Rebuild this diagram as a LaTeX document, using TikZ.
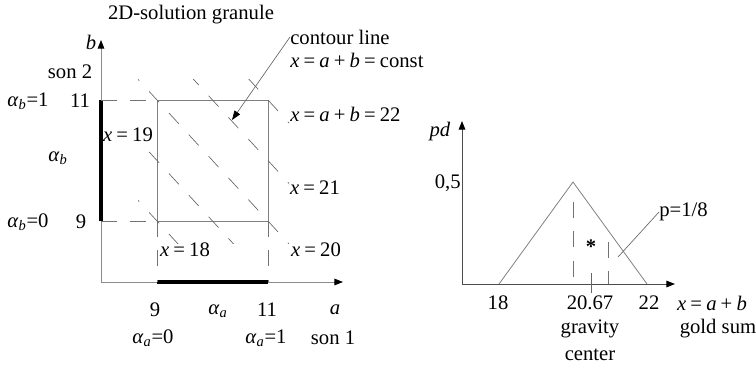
\documentclass[tikz,border=0pt]{standalone}
\usepackage{fontspec}
\setmainfont{Liberation Serif}
\usetikzlibrary{arrows.meta}
\newcommand{\asub}[1]{\textit{α}\textsubscript{\textit{#1}}}
\newcommand{\eqs}{\kern0.2em=\kern0.2em}
\newcommand{\pls}{\kern0.2em+\kern0.2em}

\begin{document}
\begin{tikzpicture}[x=0.75pt, y=-0.75pt,
  every node/.style={inner sep=0pt, font=\fontsize{15.5}{18}\selectfont},
  axisline/.style={draw=black!45, line width=0.7pt, -{Triangle[length=6.5pt,width=5pt,color=black]}},
  axisdark/.style={draw=black!70, line width=0.7pt, -{Triangle[length=6.5pt,width=5pt,color=black]}},
  granule/.style={draw=black!50, line width=0.6pt},
  rangebar/.style={draw=black, line width=2.6pt},
  proj/.style={draw=black!55, line width=0.6pt, dash pattern=on 12pt off 10pt},
  contour/.style={draw=black!60, line width=0.5pt, dash pattern=on 11pt off 11pt},
  pointer/.style={draw=black!60, line width=0.5pt, -{Triangle[length=7pt,width=5pt,color=black]}},
  leader/.style={draw=black!60, line width=0.5pt}]
  \useasboundingbox (0,0) rectangle (756,371);

  % Left plot: axes
  \coordinate (oL) at (101,282);
  \coordinate (bEnd) at (101,40);
  \coordinate (aEnd) at (343,282);
  \draw[axisline] (oL) -- (bEnd);
  \draw[axisline] (oL) -- (aEnd);
  % Granule square
  \coordinate (g00) at (157,221);
  \coordinate (g11) at (268,100);
  \coordinate (g01) at (157,100);
  \coordinate (g10) at (268,221);
  \draw[granule] (g00) rectangle (g11);
  % Ranges on the axes
  \coordinate (b9) at (101,221);
  \coordinate (b11) at (101,100);
  \coordinate (a9) at (157,282);
  \coordinate (a11) at (268,282);
  \draw[rangebar] (b9) -- (b11);
  \draw[rangebar] (a9) -- (a11);
  % Projections of the square
  \draw[proj] (b11) -- (g01);
  \draw[proj] (b9) -- (g00);
  \draw[proj] (g00) -- (a9);
  \draw[proj] (g10) -- (a11);
  % Contour lines x = a + b
  \begin{scope}
    \clip (138,79) rectangle (289,243);
    \foreach \c in {18,...,22}
      \draw[contour] ({157-3*55.5},{221-(\c-18)*60.5-3*60.5})
        -- ({157+3*55.5},{221-(\c-18)*60.5+3*60.5});
  \end{scope}

  % Left plot: labels
  \node (title) at (191,15) {2D-solution granule};
  \node (bLab) at (91,42) {\textit{b}};
  \node (son2) at (70,72) {son 2};
  \node (ab1) at (28,101) {\asub{b}=1};
  \node (b11Lab) at (80,101) {11};
  \node (abLab) at (58,158) {\asub{b}};
  \node (ab0) at (28,222) {\asub{b}=0};
  \node (b9Lab) at (81,222) {9};
  \node (x19) at (128,135) {\textit{x}\eqs 19};
  \node (x18) at (185,250) {\textit{x}\eqs 18};
  \node (x20) at (316,250) {\textit{x}\eqs 20};
  \node (x21) at (315,188) {\textit{x}\eqs 21};
  \node[anchor=west] (x22) at (290,114) {\textit{x}\eqs\textit{a}\pls\textit{b}\eqs 22};
  \node[anchor=west] (cLab) at (290,37) {contour line};
  \node[anchor=west] (cEq) at (290,60) {\textit{x}\eqs\textit{a}\pls\textit{b}\eqs const};
  \node (a9Lab) at (155,310) {9};
  \node (aaLab) at (218,311) {\asub{a}};
  \node (a11Lab) at (267,310) {11};
  \node (aLab) at (335,310) {\textit{a}};
  \node (aa0) at (153,338) {\asub{a}=0};
  \node (aa1) at (266,338) {\asub{a}=1};
  \node (son1) at (333,338) {son 1};
  % Pointer to a contour line
  \coordinate (cTip) at (232,120);
  \draw[pointer] (cLab.west) -- (cTip);

  % Right plot: axes
  \coordinate (oR) at (462,284);
  \coordinate (pdEnd) at (462,121);
  \coordinate (xEnd) at (675,284);
  \draw[axisdark] (oR) -- (pdEnd);
  \draw[axisdark] (oR) -- (xEnd);
  % Triangular distribution
  \coordinate (t18) at (499,284);
  \coordinate (tTop) at (573,182);
  \coordinate (t22) at (647,284);
  \draw[granule] (t18) -- (tTop) -- (t22);
  \coordinate (m20a) at (573,202);
  \coordinate (m20b) at (573,284);
  \coordinate (m21a) at (608,242);
  \coordinate (m21b) at (608,284);
  \draw[proj] (m20a) -- (m20b);
  \draw[proj] (m21a) -- (m21b);
  \coordinate (gcTop) at (591,273);
  \coordinate (gcBot) at (591,293);
  \draw[leader] (gcTop) -- (gcBot);
  \node (star) at (591,247) {\textbf{*}};
  % Right plot: labels
  \node (pdLab) at (440,132) {\textit{pd}};
  \node[anchor=east] (halfLab) at (461,183) {0,5};
  \node[anchor=west] (pLab) at (659,212) {p=1/8};
  \coordinate (pFoot) at (618,257);
  \draw[leader] (pLab.west) -- (pFoot);
  \node (r18) at (498,303) {18};
  \node (r2067) at (590,303) {20.67};
  \node (r22) at (649,303) {22};
  \node (rx) at (712,303) {\textit{x}\eqs\textit{a}\pls\textit{b}};
  \node (grav) at (590,329) {gravity};
  \node (cent) at (590,355) {center};
  \node (gold) at (718,329) {gold sum};
\end{tikzpicture}
\end{document}
